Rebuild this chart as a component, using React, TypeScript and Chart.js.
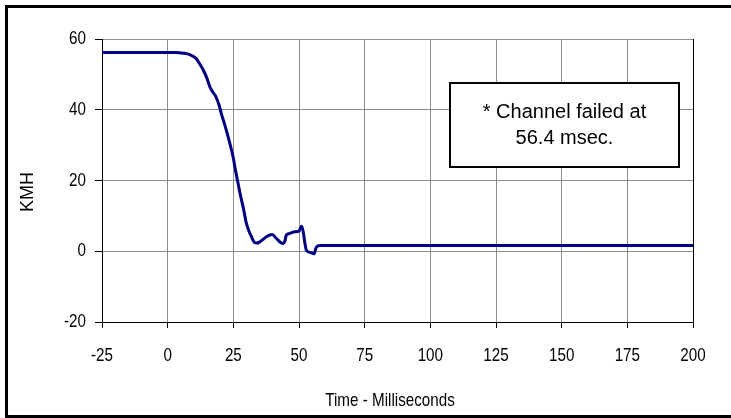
import React, { useEffect, useRef } from "react";
import { Chart, registerables } from "chart.js";

Chart.register(...registerables);

// Data
const timeMs: number[] = [
  -25, 0, 3, 6, 8.4, 10.7, 12, 13.5, 15, 16, 17, 18.3, 19.5, 20.4, 21.8, 23, 24,
  24.9, 25.8, 26.8, 27.8, 28.7, 30, 31, 31.9, 33, 34, 35, 36.4, 37.6, 39.8, 41.4,
  43, 44, 44.6, 45.2, 46.4, 48.4, 50, 50.5, 51, 51.6, 52.2, 52.8, 54, 55.2, 55.8,
  56.4, 57.2, 58, 100, 150, 200,
];
const speedKmh: number[] = [
  56.2, 56.2, 56.2, 56.0, 55.6, 54.6, 53.2, 51.3, 48.8, 46.6, 45.2, 43.8, 41.5,
  39, 35.6, 32.4, 29.5, 26.7, 23, 19.2, 15.5, 12.6, 7.8, 5.6, 4.1, 2.5, 2.3, 2.6,
  3.4, 4.1, 4.7, 3.6, 2.5, 2.2, 2.8, 4.6, 5.0, 5.5, 5.7, 6.5, 7.1, 5.5, 2.5, 0.3,
  -0.3, -0.6, -0.7, 0.8, 1.5, 1.6, 1.6, 1.6, 1.6,
];
const xRange = { min: -25, max: 200, step: 25 };
const yRange = { min: -20, max: 60, step: 20 };
const xTitle = "Time - Milliseconds";
const yTitle = "KMH";
const noteLines = ["* Channel failed at", "56.4 msec."];
// annotation box corners in data units
const noteX = [107.6, 194.7];
const noteY = [47.5, 23.7];

const REGULAR = "'Liberation Sans', Arial, sans-serif";
const NARROW_SCALE = 0.8;

function narrowText(ctx: any, text: string, x: number, y: number, align: string) {
  ctx.save();
  ctx.translate(x, y);
  ctx.scale(NARROW_SCALE, 1);
  ctx.textAlign = align;
  ctx.fillText(text, 0, 0);
  ctx.restore();
}

const decorPlugin = {
  id: "decor",
  afterDraw(chart: any) {
    const ctx = chart.ctx;
    const xs = chart.scales.x;
    const ys = chart.scales.y;
    ctx.save();
    ctx.fillStyle = "#000";
    ctx.textBaseline = "middle";

    // tick labels (narrow face emulation)
    ctx.font = `19px ${REGULAR}`;
    xs.ticks.forEach((t: any) => {
      narrowText(ctx, String(t.value), xs.getPixelForValue(t.value), xs.top + 34, "center");
    });
    ys.ticks.forEach((t: any) => {
      narrowText(ctx, String(t.value), ys.right - 16, ys.getPixelForValue(t.value), "right");
    });

    // annotation box
    const x0 = Math.round(xs.getPixelForValue(noteX[0]));
    const x1 = Math.round(xs.getPixelForValue(noteX[1]));
    const y0 = Math.round(ys.getPixelForValue(noteY[0]));
    const y1 = Math.round(ys.getPixelForValue(noteY[1]));
    ctx.fillStyle = "#fff";
    ctx.fillRect(x0, y0, x1 - x0, y1 - y0);
    ctx.strokeStyle = "#000";
    ctx.lineWidth = 2;
    ctx.strokeRect(x0, y0, x1 - x0, y1 - y0);
    ctx.fillStyle = "#000";
    ctx.font = `20px ${REGULAR}`;
    ctx.textAlign = "center";
    const cx = (x0 + x1) / 2;
    const cy = (y0 + y1) / 2;
    ctx.fillText(noteLines[0], cx, cy - 13);
    ctx.fillText(noteLines[1], cx, cy + 13);

    // axis titles
    ctx.font = `19px ${REGULAR}`;
    narrowText(ctx, xTitle, 390, 401, "center");
    ctx.save();
    ctx.translate(28, 192);
    ctx.rotate(-Math.PI / 2);
    ctx.font = `18px ${REGULAR}`;
    ctx.textAlign = "center";
    ctx.fillText(yTitle, 0, 0);
    ctx.restore();

    // outer frame
    ctx.lineWidth = 3;
    ctx.strokeStyle = "#000";
    ctx.strokeRect(6.5, 6.5, 735, 410);
    ctx.restore();
  },
};

export default function App() {
  const ref = useRef<HTMLCanvasElement>(null);
  useEffect(() => {
    if (!ref.current) return;
    const chart = new Chart(ref.current, {
      type: "line",
      data: {
        datasets: [
          {
            data: timeMs.map((t, i) => ({ x: t, y: speedKmh[i] })),
            borderColor: "#000080",
            borderWidth: 3,
            pointRadius: 0,
            cubicInterpolationMode: "monotone",
            fill: false,
          },
        ],
      },
      options: {
        animation: false,
        responsive: false,
        devicePixelRatio: 1,
        layout: { padding: { left: 0, right: 38, top: 39, bottom: 0 } },
        plugins: { legend: { display: false }, tooltip: { enabled: false } },
        scales: {
          x: {
            type: "linear",
            min: xRange.min,
            max: xRange.max,
            afterFit: (s: any) => {
              s.height = 96;
            },
            ticks: {
              stepSize: xRange.step,
              display: false,
            },
            grid: {
              color: (c: any) => (c.tick && c.tick.value === xRange.max ? "#000" : "#8c8c8c"),
              tickColor: "#000",
              tickLength: 6,
              lineWidth: 1,
            },
            border: { color: "#000", width: 1 },
          },
          y: {
            min: yRange.min,
            max: yRange.max,
            afterFit: (s: any) => {
              s.width = 102;
            },
            ticks: {
              stepSize: yRange.step,
              display: false,
            },
            grid: {
              color: "#8c8c8c",
              tickColor: "#000",
              tickLength: 7,
              lineWidth: 1,
            },
            border: { color: "#000", width: 1 },
          },
        },
      },
      plugins: [decorPlugin],
    });
    return () => chart.destroy();
  }, []);
  return (
    <div style={{ position: "absolute", left: 0, top: 0, width: 731, height: 418, background: "#fff" }}>
      <canvas ref={ref} width={731} height={418} style={{ display: "block" }} />
    </div>
  );
}
